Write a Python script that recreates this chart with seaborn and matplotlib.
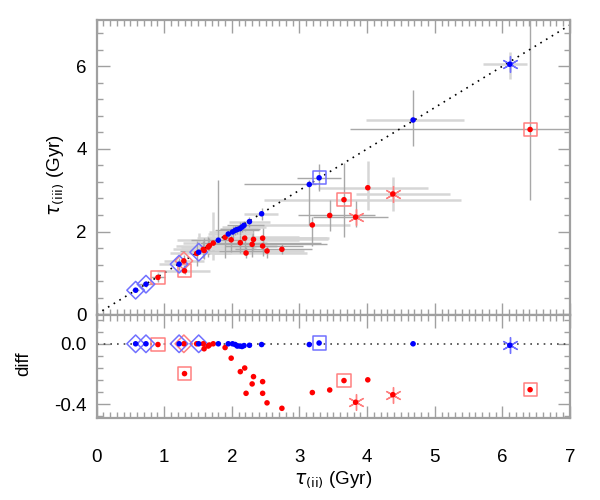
import numpy as np
import seaborn as sns
import matplotlib.pyplot as plt
from matplotlib.ticker import MultipleLocator

# ---- data ----
# blue sample
bx = [0.577, 0.73, 1.22, 1.51, 1.80, 1.947, 2.01, 2.05, 2.08, 2.12, 2.15, 2.18, 2.26, 2.44, 3.145, 3.29, 4.68, 6.11]
by = [0.58, 0.726, 1.21, 1.50, 1.79, 1.94, 1.99, 2.03, 2.05, 2.07, 2.11, 2.15, 2.24, 2.43, 3.14, 3.30, 4.70, 6.05]
bdiff = [0, 0, 0, 0, 0, 0, 0, -0.005, -0.015, -0.015, -0.018, -0.012, -0.01, -0.005, -0.005, 0.005, 0, -0.01]
bkind = ['diamond', 'diamond', 'diamond', 'diamond', 'dot', 'dot', 'dot', 'dot', 'dot', 'dot',
         'dot', 'dot', 'dot', 'dot', 'dot', 'square', 'dot', 'asterisk']
bxlo = [0.05, 0.1, 0.3, 0.2, 0.4, 0.3, 0.35, 0.3, 0.25, 0.3, 0.3, 0.25, 0.3, 0.26, 0.97, 0.33, 0.69, 0.40]
bxhi = [0.05, 0.1, 0.15, 0.3, 0.4, 0.35, 0.3, 0.35, 0.3, 0.3, 0.35, 0.3, 0.3, 0.24, 0.10, 0.33, 0.75, 0.26]
bylo = [0.05, 0.08, 0.15, 0.05, 0.05, 0.12, 0.15, 0.12, 0.1, 0.15, 0.12, 0.1, 0.12, 0.15, 0.97, 0.33, 0.62, 0.37]
byhi = [0.05, 0.08, 0.15, 0.46, 1.45, 0.12, 0.15, 0.12, 0.1, 0.15, 0.12, 0.1, 0.12, 0.15, 0.10, 0.33, 0.72, 0.29]
bxcol = ['d', 'd', 'l', 'l', 'd', 'l', 'l', 'd', 'l', 'd', 'l', 'd', 'l', 'l', 'd', 'd', 'l', 'l']
bycol = ['d', 'd', 'd', 'l', 'd', 'd', 'd', 'd', 'd', 'd', 'd', 'd', 'd', 'd', 'd', 'd', 'd', 'l']

# red sample
rx = [0.907, 1.29, 1.30, 1.48, 1.577, 1.59, 1.65, 1.667, 1.725, 1.90, 1.99, 2.125, 2.19, 2.21,
      2.30, 2.32, 2.455, 2.455, 2.52, 2.74, 3.19, 3.447, 3.658, 3.83, 4.01, 4.38, 6.41]
ry = [0.89, 1.29, 1.05, 1.47, 1.567, 1.54, 1.625, 1.655, 1.72, 1.86, 1.80, 1.73, 1.84, 1.48,
      1.69, 1.81, 1.84, 1.65, 1.53, 1.57, 2.16, 2.39, 2.77, 2.35, 3.06, 2.91, 4.47]
rdiff = [-0.005, 0.0, -0.197, 0.0, 0.0, -0.033, -0.015, -0.008, 0.0, -0.025, -0.095, -0.184, -0.16, -0.327,
         -0.265, -0.217, -0.25, -0.327, -0.39, -0.426, -0.322, -0.305, -0.243, -0.386, -0.238, -0.336, -0.303]
rkind = ['square', 'diamond', 'square', 'dot', 'dot', 'dot', 'dot', 'dot', 'dot', 'dot', 'dot', 'dot', 'dot', 'dot',
         'dot', 'dot', 'dot', 'dot', 'dot', 'dot', 'dot', 'dot', 'square', 'asterisk', 'dot', 'asterisk', 'square']
rxlo = [0.1, 0.3, 0.41, 0.4, 0.45, 0.35, 0.4, 0.5, 0.45, 0.27, 0.8, 0.6, 0.7, 0.5,
        0.6, 0.7, 0.8, 0.55, 0.6, 0.7, 1.0, 0.47, 1.19, 0.63, 0.74, 0.54, 2.66]
rxhi = [0.1, 0.3, 0.38, 0.5, 0.6, 0.9, 0.7, 1.0, 0.8, 1.1, 1.0, 1.2, 1.25, 0.9,
        1.1, 1.1, 0.95, 0.6, 0.55, 0.45, 0.56, 0.67, 1.73, 0.48, 0.89, 0.85, 2.66]
rylo = [0.1, 0.15, 0.08, 0.3, 0.2, 0.2, 0.25, 0.2, 0.41, 0.5, 0.3, 0.25, 0.3, 0.12,
        0.3, 0.25, 0.3, 0.25, 0.17, 0.12, 0.5, 0.37, 0.9, 0.23, 0.54, 0.41, 1.70]
ryhi = [0.1, 0.15, 0.08, 0.3, 0.2, 0.3, 0.25, 0.2, 0.76, 0.1, 0.3, 0.25, 0.3, 0.15,
        0.3, 0.25, 0.3, 0.25, 0.12, 0.12, 0.2, 0.37, 0.9, 0.4, 0.64, 0.41, 2.70]
rxcol = ['d', 'l', 'l', 'l', 'l', 'd', 'l', 'l', 'l', 'l', 'l', 'd', 'l', 'l',
         'd', 'l', 'l', 'd', 'l', 'd', 'l', 'd', 'l', 'd', 'l', 'l', 'd']
rycol = ['d', 'd', 'd', 'd', 'd', 'd', 'd', 'd', 'l', 'd', 'd', 'd', 'd', 'd',
         'd', 'd', 'd', 'd', 'd', 'd', 'd', 'd', 'd', 'd', 'l', 'l', 'd']

SHADE = {'d': ('#a8a8a8', 1.0), 'l': ('#d6d6d6', 1.8)}
FRAME = '#a0a0a0'

sns.set_style('ticks')
plt.rcParams['font.family'] = ['Liberation Sans', 'DejaVu Sans']
plt.rcParams['mathtext.fontset'] = 'dejavusans'
plt.rcParams['text.color'] = 'black'
plt.rcParams['axes.labelcolor'] = 'black'

fig = plt.figure(figsize=(6, 5), dpi=100)
ax1 = fig.add_axes([0.161, 0.37, 0.789, 0.59])
ax2 = fig.add_axes([0.161, 0.164, 0.789, 0.206], sharex=ax1)


def draw_errors(ax, x, y, xlo, xhi, ylo, yhi, xcol, ycol):
    x, y = np.array(x), np.array(y)
    xlo, xhi, ylo, yhi = map(np.array, (xlo, xhi, ylo, yhi))
    for key in ['l', 'd']:
        c, lw = SHADE[key]
        m = np.array(xcol) == key
        if m.any():
            ax.errorbar(x[m], y[m], xerr=[xlo[m], xhi[m]], fmt='none', ecolor=c, elinewidth=lw,
                        capsize=0, zorder=1)
        m = np.array(ycol) == key
        if m.any():
            ax.errorbar(x[m], y[m], yerr=[ylo[m], yhi[m]], fmt='none', ecolor=c, elinewidth=lw,
                        capsize=0, zorder=1)


def draw_points(ax, x, y, kind, dot_col, open_col):
    x, y, kind = np.array(x), np.array(y), np.array(kind)
    for k, mk, s in [('diamond', 'D', 80), ('square', 's', 90)]:
        m = kind == k
        if m.any():
            ax.scatter(x[m], y[m], marker=mk, s=s, facecolors='none', edgecolors=open_col,
                       linewidths=1.1, zorder=3)
    m = kind == 'asterisk'
    if m.any():
        ax.scatter(x[m], y[m], marker=(6, 2, 0), s=130, color=open_col, linewidths=1.0, zorder=3)
    sns.scatterplot(x=x, y=y, ax=ax, color=dot_col, s=16, edgecolor='none', zorder=4, legend=False)


# top panel
ax1.plot([0, 7.2], [0, 7.2], ls=(0, (1, 3)), color='black', lw=1.2, zorder=2)
draw_errors(ax1, rx, ry, rxlo, rxhi, rylo, ryhi, rxcol, rycol)
draw_errors(ax1, bx, by, bxlo, bxhi, bylo, byhi, bxcol, bycol)
draw_points(ax1, rx, ry, rkind, '#ff0000', '#ff8080')
draw_points(ax1, bx, by, bkind, '#0000ff', '#7070ff')

# bottom panel
ax2.axhline(0, ls=(0, (1, 3)), color='#444444', lw=1.2, zorder=2)
draw_points(ax2, rx, rdiff, rkind, '#ff0000', '#ff8080')
draw_points(ax2, bx, bdiff, bkind, '#0000ff', '#7070ff')

ax1.set_xlim(0, 7)
ax1.set_ylim(-0.02, 7.12)
ax2.set_ylim(-0.49, 0.19)

ax1.yaxis.set_major_locator(MultipleLocator(2))
ax1.yaxis.set_minor_locator(MultipleLocator(0.4))
ax2.yaxis.set_major_locator(MultipleLocator(0.4))
ax2.yaxis.set_minor_locator(MultipleLocator(0.08))
ax1.xaxis.set_major_locator(MultipleLocator(1))
ax1.xaxis.set_minor_locator(MultipleLocator(0.1))
ax2.yaxis.set_major_formatter(plt.FuncFormatter(lambda v, p: f'{v:.1f}'))

for ax in (ax1, ax2):
    for sp in ax.spines.values():
        sp.set_color(FRAME)
        sp.set_linewidth(1.6)
    ax.tick_params(which='both', direction='in', top=True, right=True, color=FRAME,
                   labelcolor='black', labelsize=13.5, pad=7, width=1.0)
    ax.tick_params(which='major', length=9)
    ax.tick_params(which='minor', length=4)

ax1.tick_params(labelbottom=False)
ax2.tick_params(axis='x', which='both', pad=22)
ax1.set_ylabel(r'$\tau_{\rm (iii)}$ (Gyr)', fontsize=13.5)
ax1.yaxis.set_label_coords(-0.064, 0.475)
ax2.set_ylabel('diff', fontsize=13.5)
ax2.yaxis.set_label_coords(-0.135, 0.53)
ax2.set_xlabel(r'$\tau_{\rm (ii)}$ (Gyr)', fontsize=13.5)
ax2.xaxis.set_label_coords(0.5, -0.50)

fig.savefig('out.png', dpi=100)
